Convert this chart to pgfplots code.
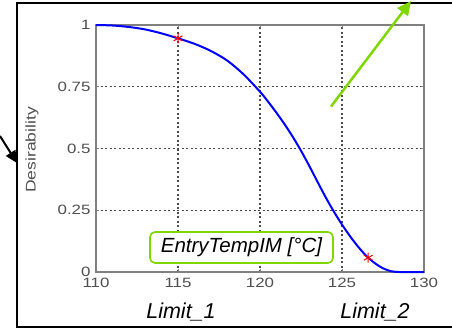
\documentclass[border=0pt]{standalone}
\usepackage{pgfplots}
\pgfplotsset{compat=1.18}
\usepackage{fontspec}
\setmainfont{Liberation Sans}
\newfontfamily\tickfont[FakeStretch=1.25]{Liberation Sans}
\usetikzlibrary{arrows.meta}
\definecolor{lime}{RGB}{128,214,0}
\definecolor{tickgray}{RGB}{80,80,80}
\definecolor{boxgray}{RGB}{128,128,128}
\definecolor{gridgray}{RGB}{75,75,75}
\begin{document}
\begin{tikzpicture}
% outer frame
\draw[line width=1.5bp, black] (453bp,-3bp) -- (17bp,-3bp) -- (17bp,-327bp) -- (453bp,-327bp);
\begin{axis}[
  at={(96bp,-272bp)}, anchor=south west,
  scale only axis, width=328bp, height=247bp,
  xmin=110, xmax=130, ymin=0, ymax=1,
  xtick={110,115,120,125,130},
  ytick={0,0.25,0.5,0.75,1},
  yticklabels={0,0.25,0.5,0.75,1},
  xticklabels={110,115,120,125,130},
  /pgf/number format/assume math mode=true,
  ticklabel style={font=\tickfont\fontsize{13.5bp}{14bp}\selectfont, text=tickgray},
  yticklabel style={xshift=-2bp},
  xticklabel style={yshift=-3bp},
  axis line style={boxgray, line width=1.3bp},
  tick style={boxgray, line width=1bp},
  tick align=inside, major tick length=3bp,
  grid=major,
  major grid style={gridgray, line width=1.1bp, dash pattern=on 2bp off 2.5bp},
  ylabel={Desirability},
  ylabel style={at={(axis description cs:-0.195,0.494)}, anchor=center,
    font=\tickfont\fontsize{14bp}{14bp}\selectfont, text=tickgray},
  clip=false,
]
\addplot[blue, line width=2bp, smooth, tension=0.5] coordinates {
(110,1.000) (111,0.998) (112,0.992) (113,0.982) (114,0.966) (115,0.946)
(116,0.924) (117,0.895) (118,0.856) (119,0.800) (120,0.730) (120.5,0.689)
(121,0.645) (121.5,0.598) (122,0.547) (122.5,0.491) (123,0.430) (123.5,0.366)
(124,0.303) (124.5,0.245) (125,0.192) (125.5,0.144) (126,0.101) (126.5,0.064)
(127,0.036) (127.5,0.015) (128,0.003) (128.5,0) (129.3,0) (130,0)
};
\addplot[only marks, red, mark=asterisk, mark size=5bp, line width=1bp] coordinates {
(115,0.946) (126.6,0.058)
};
\end{axis}
% green label box
\node[draw=lime, line width=1.6bp, fill=white, rounded corners=5bp,
  minimum width=183bp, minimum height=31bp, inner sep=0pt,
  font=\fontsize{20.5bp}{22bp}\selectfont\itshape] at (241.5bp,-247.5bp) {EntryTempIM [°C]};
% limit labels
\node[font=\fontsize{21.5bp}{22bp}\selectfont\itshape, anchor=base] at (181bp,-318bp) {Limit\_1};
\node[font=\fontsize{21.5bp}{22bp}\selectfont\itshape, anchor=base] at (375bp,-318bp) {Limit\_2};
% green arrow
\draw[lime, line width=2.5bp, -{Triangle[length=14bp, width=13bp]}] (331bp,-106.5bp) -- (411bp,-1bp);
% black arrow
\draw[black, line width=2bp, -{Triangle[length=12bp, width=11bp]}] (0bp,-136bp) -- (17bp,-163bp);
\pgfresetboundingbox
\useasboundingbox (0bp,0bp) rectangle (452bp,-328bp);
\end{tikzpicture}
\end{document}
